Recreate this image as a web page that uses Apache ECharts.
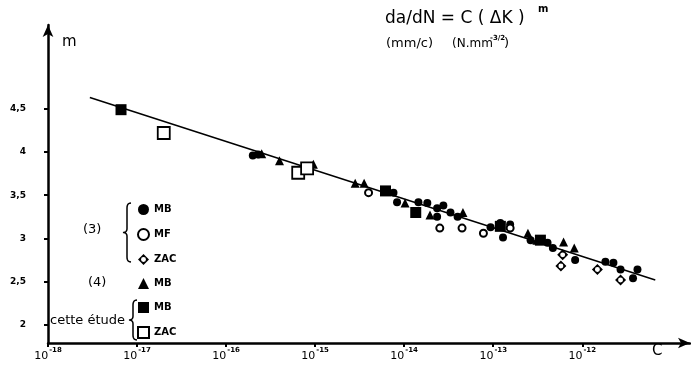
<!DOCTYPE html>
<html>
<head>
<meta charset="utf-8">
<script src="https://cdn.jsdelivr.net/npm/echarts@6/dist/echarts.min.js"></script>
<style>
  html, body { margin: 0; padding: 0; background: #fff; }
  #chart { width: 691px; height: 369px; }
</style>
</head>
<body>
<div id="chart"></div>
<script>
// x = log10(C), y = m
const xTicks = [-18, -17, -16, -15, -14, -13, -12];
const yTicks = [2, 2.5, 3, 3.5, 4, 4.5];

// (3) MB - filled circles
const mb3 = [
  [-15.70, 3.96], [-15.64, 3.97], [-14.12, 3.53], [-14.08, 3.42], [-13.84, 3.42],
  [-13.74, 3.41], [-13.63, 3.35], [-13.56, 3.38], [-13.48, 3.30], [-13.40, 3.25],
  [-13.63, 3.25], [-13.03, 3.13], [-12.92, 3.18], [-12.81, 3.16], [-12.89, 3.01],
  [-12.58, 2.98], [-12.39, 2.95], [-12.33, 2.89], [-12.08, 2.75], [-11.74, 2.73],
  [-11.65, 2.72], [-11.57, 2.64], [-11.38, 2.64], [-11.43, 2.54]
];
// (3) MF - open circles
const mf3 = [
  [-14.40, 3.53], [-13.60, 3.12], [-13.35, 3.12], [-13.11, 3.06], [-12.81, 3.12]
];
// (3) ZAC - open diamonds
const zac3 = [
  [-12.22, 2.81], [-12.24, 2.68], [-11.83, 2.64], [-11.57, 2.52]
];
// (4) MB - triangles
const mb4 = [
  [-15.60, 3.98], [-15.40, 3.90], [-15.02, 3.86], [-14.55, 3.64], [-14.45, 3.64],
  [-13.99, 3.41], [-13.71, 3.27], [-13.34, 3.30], [-12.61, 3.06], [-12.51, 2.98],
  [-12.21, 2.96], [-12.09, 2.89]
];
// cette étude MB - filled squares
const mbEtude = [
  [-17.18, 4.49], [-14.21, 3.55], [-13.87, 3.30], [-12.92, 3.14], [-12.47, 2.98]
];
// cette étude ZAC - open squares
const zacEtude = [
  [-16.70, 4.22], [-15.19, 3.76], [-15.09, 3.81]
];
// fitted line
const fitLine = [[-17.53, 4.63], [-11.18, 2.52]];

const font = 'DejaVu Sans';
const chart = echarts.init(document.getElementById('chart'));

// points of a "{" brace, opening to the right
function brace(x, t, b) {
  const m = (t + b) / 2;
  const pts = [];
  const quad = (p0, p1, p2) => {
    for (let i = 0; i <= 6; i++) {
      const s = i / 6;
      pts.push([
        (1 - s) * (1 - s) * p0[0] + 2 * (1 - s) * s * p1[0] + s * s * p2[0],
        (1 - s) * (1 - s) * p0[1] + 2 * (1 - s) * s * p1[1] + s * s * p2[1]
      ]);
    }
  };
  quad([x + 4, t], [x, t], [x, t + 5]);
  quad([x, m - 4], [x, m], [x - 4, m]);
  quad([x - 4, m], [x, m], [x, m + 4]);
  quad([x, b - 5], [x, b], [x + 4, b]);
  return pts;
}

const diamondPath = 'path://M0,-10 L10,0 L0,10 L-10,0 Z M0,-4.5 A4.5,4.5 0 1,0 0,4.5 A4.5,4.5 0 1,0 0,-4.5 Z';

function scatter(name, data, symbol, size, fill, border) {
  return {
    name: name,
    type: 'scatter',
    data: data,
    symbol: symbol,
    symbolSize: size,
    z: 3,
    itemStyle: { color: fill, borderColor: '#000', borderWidth: border, opacity: 1 }
  };
}

chart.setOption({
  animation: false,
  backgroundColor: '#fff',
  grid: { left: 48, right: 1, top: 25, bottom: 26 },
  xAxis: {
    type: 'value',
    min: -18,
    max: -10.79,
    splitLine: { show: false },
    axisLine: { lineStyle: { color: '#000', width: 2.5 }, symbol: ['none', 'arrow'], symbolSize: [8, 12] },
    axisTick: { customValues: xTicks, length: 4, lineStyle: { color: '#000', width: 2 } },
    axisLabel: {
      customValues: xTicks,
      margin: 4,
      formatter: v => '{b|10}{s|' + v + '}',
      rich: {
        b: { fontFamily: font, fontSize: 11, color: '#000', verticalAlign: 'bottom' },
        s: { fontFamily: font, fontSize: 7, fontWeight: 'bold', color: '#000', verticalAlign: 'top', padding: [0, 0, 8, 1] }
      }
    }
  },
  yAxis: {
    type: 'value',
    min: 1.79,
    max: 5.47,
    splitLine: { show: false },
    axisLine: { lineStyle: { color: '#000', width: 2.5 }, symbol: ['none', 'arrow'], symbolSize: [8, 12] },
    axisTick: { customValues: yTicks, length: 4, lineStyle: { color: '#000', width: 2 } },
    axisLabel: {
      customValues: yTicks,
      margin: 22,
      fontFamily: font,
      fontSize: 9,
      fontWeight: 'bold',
      color: '#000',
      formatter: v => String(v).replace('.', ',')
    }
  },
  legend: {
    orient: 'vertical',
    left: 132,
    top: 199,
    itemGap: 13,
    itemWidth: 11,
    itemHeight: 11,
    data: ['MB (3)', 'MF (3)', 'ZAC (3)', 'MB (4)', 'MB étude', 'ZAC étude'],
    formatter: n => n.split(' ')[0],
    textStyle: { fontFamily: font, fontSize: 10, fontWeight: 'bold', color: '#000' }
  },
  graphic: [
    { type: 'text', left: 385, top: 10, style: { text: 'da/dN = C ( ΔK )', font: '17px ' + font, fill: '#000' } },
    { type: 'text', left: 538, top: 4, style: { text: 'm', font: 'bold 10px ' + font, fill: '#000' } },
    { type: 'text', left: 386, top: 37, style: { text: '(mm/c)', font: '13px ' + font, fill: '#000' } },
    { type: 'text', left: 452, top: 38, style: { text: '(N.mm', font: '12px ' + font, fill: '#000' } },
    { type: 'text', left: 490, top: 35, style: { text: '-3/2', font: 'bold 7px ' + font, fill: '#000' } },
    { type: 'text', left: 504, top: 37, style: { text: ')', font: '13px ' + font, fill: '#000' } },
    { type: 'text', left: 62, top: 35, style: { text: 'm', font: '15px ' + font, fill: '#000' } },
    { type: 'text', left: 652, top: 344, style: { text: 'C', font: '15px ' + font, fill: '#000' } },
    { type: 'text', left: 83, top: 223, style: { text: '(3)', font: '13px ' + font, fill: '#000' } },
    { type: 'text', left: 88, top: 276, style: { text: '(4)', font: '13px ' + font, fill: '#000' } },
    { type: 'text', left: 50, top: 314, style: { text: 'cette étude', font: '13px ' + font, fill: '#000' } },
    { type: 'polyline', shape: { points: brace(127, 203, 262) }, style: { stroke: '#000', lineWidth: 1.5, fill: null } },
    { type: 'polyline', shape: { points: brace(133, 300, 340) }, style: { stroke: '#000', lineWidth: 1.5, fill: null } }
  ],
  series: [
    {
      name: 'fit',
      type: 'line',
      data: fitLine,
      showSymbol: false,
      silent: true,
      z: 2,
      lineStyle: { color: '#000', width: 1.5 }
    },
    scatter('MB (3)', mb3, 'circle', 8, '#000', 0),
    scatter('MF (3)', mf3, 'circle', 7, '#fff', 2),
    scatter('ZAC (3)', zac3, diamondPath, 11, '#000', 0),
    scatter('MB (4)', mb4, 'triangle', 9, '#000', 0),
    scatter('MB étude', mbEtude, 'rect', 11, '#000', 0),
    scatter('ZAC étude', zacEtude, 'rect', 12, '#fff', 1.8)
  ]
});
</script>
</body>
</html>
